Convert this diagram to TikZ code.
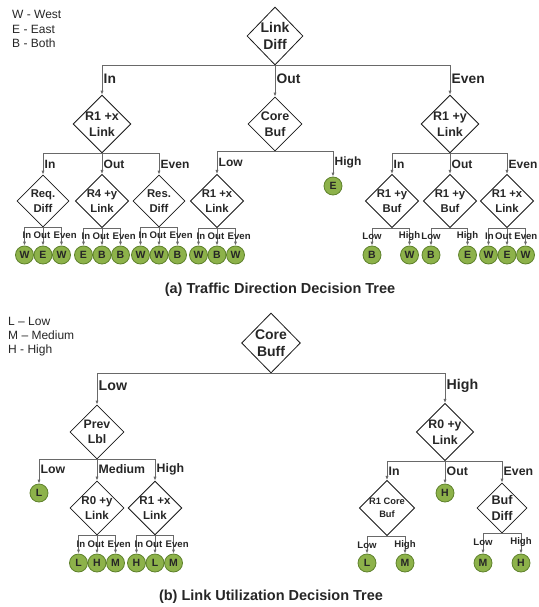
\documentclass[tikz,border=0pt]{standalone}
\usepackage{fontspec}
\setmainfont{Liberation Sans}
\usetikzlibrary{shapes.geometric,arrows.meta,calc}
\definecolor{txt}{RGB}{38,38,38}
\definecolor{connc}{RGB}{105,105,105}
\definecolor{leaffill}{RGB}{141,178,74}
\definecolor{leafdraw}{RGB}{95,130,45}
\newcommand{\fs}[2]{\fontsize{#1}{#2}\selectfont}
\tikzset{
  dia/.style={shape=diamond, draw=black!90, line width=0.8pt, inner sep=0pt, align=center, text=txt},
  diaAzero/.style={dia, minimum width=56pt, minimum height=58pt, font=\bfseries\fs{14}{17}},
  diaAone/.style={dia, minimum width=54pt, minimum height=54pt, font=\bfseries\fs{12.5}{15.5}},
  diaAtwo/.style={dia, minimum width=52pt, minimum height=52pt, font=\bfseries\fs{11.3}{15}},
  diaBzero/.style={dia, minimum width=58pt, minimum height=60pt, font=\bfseries\fs{14}{17}},
  diaBone/.style={dia, minimum width=54pt, minimum height=54pt, font=\bfseries\fs{12.3}{15.5}},
  diaBtwo/.style={dia, minimum width=50pt, minimum height=50pt, font=\bfseries\fs{11.5}{15}},
  diaBsmall/.style={dia, minimum width=50pt, minimum height=50pt, font=\bfseries\fs{9.3}{13}},
  diaBbig/.style={dia, minimum width=50pt, minimum height=50pt, font=\bfseries\fs{12.6}{16}},
  leaf/.style={circle, fill=leaffill, draw=leafdraw, line width=0.8pt, minimum size=18pt, inner sep=0pt, text=txt, font=\bfseries\fs{10.5}{12}},
  conn/.style={draw=connc, line width=0.8pt, -{Latex[length=4pt,width=3.2pt]}},
  labAone/.style={text=txt, inner sep=0pt, font=\bfseries\fs{13.8}{15}},
  labAtwo/.style={text=txt, inner sep=0pt, font=\bfseries\fs{12}{14}},
  labBone/.style={text=txt, inner sep=0pt, font=\bfseries\fs{14.2}{16}},
  labBtwo/.style={text=txt, inner sep=0pt, font=\bfseries\fs{12.3}{14}},
  labsm/.style={text=txt, inner sep=0pt, font=\bfseries\fs{9.6}{10}},
  legend/.style={text=txt, inner sep=0pt, anchor=west, font=\fs{12}{14}},
  capt/.style={text=txt, inner sep=0pt, font=\bfseries\fs{14.5}{17}},
}
% #1 parent, #2 child, #3 label style, #4 anchor, #5 offset, #6 text
\newcommand{\mybranch}[6]{%
  \draw[conn] (#1.south) -| (#2.north);
  \node[#3, anchor=#4] (#2lab) at ($(#1.south -| #2.north)+(#5)$) {#6};}
\begin{document}
\begin{tikzpicture}[x=1pt,y=-1pt]
\useasboundingbox (0,0) rectangle (538,607);

% ---------------- (a) ----------------
\node[legend] (lgw) at (12,14) {W - West};
\node[legend] (lge) at (12,29) {E - East};
\node[legend] (lgb) at (12,43) {B - Both};

\node[diaAzero] (A) at (275,36) {Link\\Diff};
\node[diaAone] (A1) at (102,124) {R1 +x\\Link};
\node[diaAone] (A2) at (275,124) {Core\\Buf};
\node[diaAone] (A3) at (450,124) {R1 +y\\Link};
\mybranch{A}{A1}{labAone}{west}{1.5pt,-13pt}{In}
\mybranch{A}{A2}{labAone}{west}{1.5pt,-13pt}{Out}
\mybranch{A}{A3}{labAone}{west}{1.5pt,-13pt}{Even}

\node[diaAtwo] (A11) at (43,201) {Req.\\Diff};
\node[diaAtwo] (A12) at (102,201) {R4 +y\\Link};
\node[diaAtwo] (A13) at (159,201) {Res.\\Diff};
\mybranch{A1}{A11}{labAtwo}{west}{1.5pt,-11pt}{In}
\mybranch{A1}{A12}{labAtwo}{west}{1.5pt,-11pt}{Out}
\mybranch{A1}{A13}{labAtwo}{west}{1.5pt,-11pt}{Even}

\node[diaAtwo] (A21) at (217,201) {R1 +x\\Link};
\node[leaf] (A22) at (333,186) {E};
\mybranch{A2}{A21}{labAtwo}{west}{1.5pt,-11pt}{Low}
\mybranch{A2}{A22}{labAtwo}{west}{1.5pt,-11pt}{High}

\node[diaAtwo] (A31) at (392,201) {R1 +y\\Buf};
\node[diaAtwo] (A32) at (450,201) {R1 +y\\Buf};
\node[diaAtwo] (A33) at (507,201) {R1 +x\\Link};
\mybranch{A3}{A31}{labAtwo}{west}{1.5pt,-11pt}{In}
\mybranch{A3}{A32}{labAtwo}{west}{1.5pt,-11pt}{Out}
\mybranch{A3}{A33}{labAtwo}{west}{1.5pt,-11pt}{Even}

% leaves (a)
\node[leaf] (A111) at (24.5,255) {W};
\node[leaf] (A112) at (43,255) {E};
\node[leaf] (A113) at (61.5,255) {W};
\mybranch{A11}{A111}{labsm}{west}{-2pt,-8pt}{In}
\mybranch{A11}{A112}{labsm}{west}{-9.5pt,-8pt}{Out}
\mybranch{A11}{A113}{labsm}{west}{-8pt,-8pt}{Even}

\node[leaf] (A121) at (83.5,255) {E};
\node[leaf] (A122) at (102,255) {B};
\node[leaf] (A123) at (120.5,255) {B};
\mybranch{A12}{A121}{labsm}{west}{-2pt,-8pt}{In}
\mybranch{A12}{A122}{labsm}{west}{-9.5pt,-8pt}{Out}
\mybranch{A12}{A123}{labsm}{west}{-8pt,-8pt}{Even}

\node[leaf] (A131) at (140.5,255) {W};
\node[leaf] (A132) at (159,255) {W};
\node[leaf] (A133) at (177.5,255) {B};
\mybranch{A13}{A131}{labsm}{west}{-2pt,-8pt}{In}
\mybranch{A13}{A132}{labsm}{west}{-9.5pt,-8pt}{Out}
\mybranch{A13}{A133}{labsm}{west}{-8pt,-8pt}{Even}

\node[leaf] (A211) at (198.5,255) {W};
\node[leaf] (A212) at (217,255) {B};
\node[leaf] (A213) at (235.5,255) {W};
\mybranch{A21}{A211}{labsm}{west}{-2pt,-8pt}{In}
\mybranch{A21}{A212}{labsm}{west}{-9.5pt,-8pt}{Out}
\mybranch{A21}{A213}{labsm}{west}{-8pt,-8pt}{Even}

\node[leaf] (A311) at (372,255) {B};
\node[leaf] (A312) at (409.5,255) {W};
\mybranch{A31}{A311}{labsm}{center}{0pt,-8pt}{Low}
\mybranch{A31}{A312}{labsm}{center}{0pt,-8pt}{High}

\node[leaf] (A321) at (431,255) {B};
\node[leaf] (A322) at (467.5,255) {E};
\mybranch{A32}{A321}{labsm}{center}{0pt,-8pt}{Low}
\mybranch{A32}{A322}{labsm}{center}{0pt,-8pt}{High}

\node[leaf] (A331) at (488.5,255) {W};
\node[leaf] (A332) at (507,255) {E};
\node[leaf] (A333) at (525.5,255) {W};
\mybranch{A33}{A331}{labsm}{west}{-3.5pt,-8pt}{In}
\mybranch{A33}{A332}{labsm}{west}{-12pt,-8pt}{Out}
\mybranch{A33}{A333}{labsm}{east}{12pt,-8pt}{Even}

\node[capt] (capa) at (280,290) {(a) Traffic Direction Decision Tree};

% ---------------- (b) ----------------
\node[legend] (lgl) at (8,321) {L -- Low};
\node[legend] (lgm) at (8,335.5) {M -- Medium};
\node[legend] (lgh) at (8,350) {H - High};

\node[diaBzero] (B) at (271,343) {Core\\Buff};
\node[diaBone] (B1) at (97,432) {Prev\\Lbl};
\node[diaBone] (B2) at (445,432) {R0 +y\\Link};
\mybranch{B}{B1}{labBone}{west}{1.5pt,-12pt}{Low}
\mybranch{B}{B2}{labBone}{west}{1.5pt,-12pt}{High}

\node[leaf] (B11) at (39,493) {L};
\node[diaBtwo] (B12) at (97,508) {R0 +y\\Link};
\node[diaBtwo] (B13) at (155,508) {R1 +x\\Link};
\mybranch{B1}{B11}{labBtwo}{west}{1.5pt,-10pt}{Low}
\mybranch{B1}{B12}{labBtwo}{west}{1.5pt,-10pt}{Medium}
\mybranch{B1}{B13}{labBtwo}{west}{1.5pt,-10pt}{High}

\node[diaBsmall] (B21) at (387,508) {R1 Core\\Buf};
\node[leaf] (B22) at (445,493) {H};
\node[diaBbig] (B23) at (502,508) {Buf\\Diff};
\mybranch{B2}{B21}{labBtwo}{west}{1.5pt,-10pt}{In}
\mybranch{B2}{B22}{labBtwo}{west}{1.5pt,-10pt}{Out}
\mybranch{B2}{B23}{labBtwo}{west}{1.5pt,-10pt}{Even}

\node[leaf] (B121) at (78.5,563) {L};
\node[leaf] (B122) at (97,563) {H};
\node[leaf] (B123) at (115.5,563) {M};
\mybranch{B12}{B121}{labsm}{west}{-2pt,-9pt}{In}
\mybranch{B12}{B122}{labsm}{west}{-9.5pt,-9pt}{Out}
\mybranch{B12}{B123}{labsm}{west}{-8pt,-9pt}{Even}

\node[leaf] (B131) at (136.5,563) {H};
\node[leaf] (B132) at (155,563) {L};
\node[leaf] (B133) at (173.5,563) {M};
\mybranch{B13}{B131}{labsm}{west}{-2pt,-9pt}{In}
\mybranch{B13}{B132}{labsm}{west}{-9.5pt,-9pt}{Out}
\mybranch{B13}{B133}{labsm}{west}{-8pt,-9pt}{Even}

\node[leaf] (B211) at (367,563) {L};
\node[leaf] (B212) at (405,563) {M};
\mybranch{B21}{B211}{labsm}{center}{0pt,-9pt}{Low}
\mybranch{B21}{B212}{labsm}{center}{0pt,-9pt}{High}

\node[leaf] (B231) at (483,563) {M};
\node[leaf] (B232) at (521,563) {H};
\mybranch{B23}{B231}{labsm}{center}{0pt,-9pt}{Low}
\mybranch{B23}{B232}{labsm}{center}{0pt,-9pt}{High}

\node[capt] (capb) at (271,597) {(b) Link Utilization Decision Tree};
\end{tikzpicture}
\end{document}
